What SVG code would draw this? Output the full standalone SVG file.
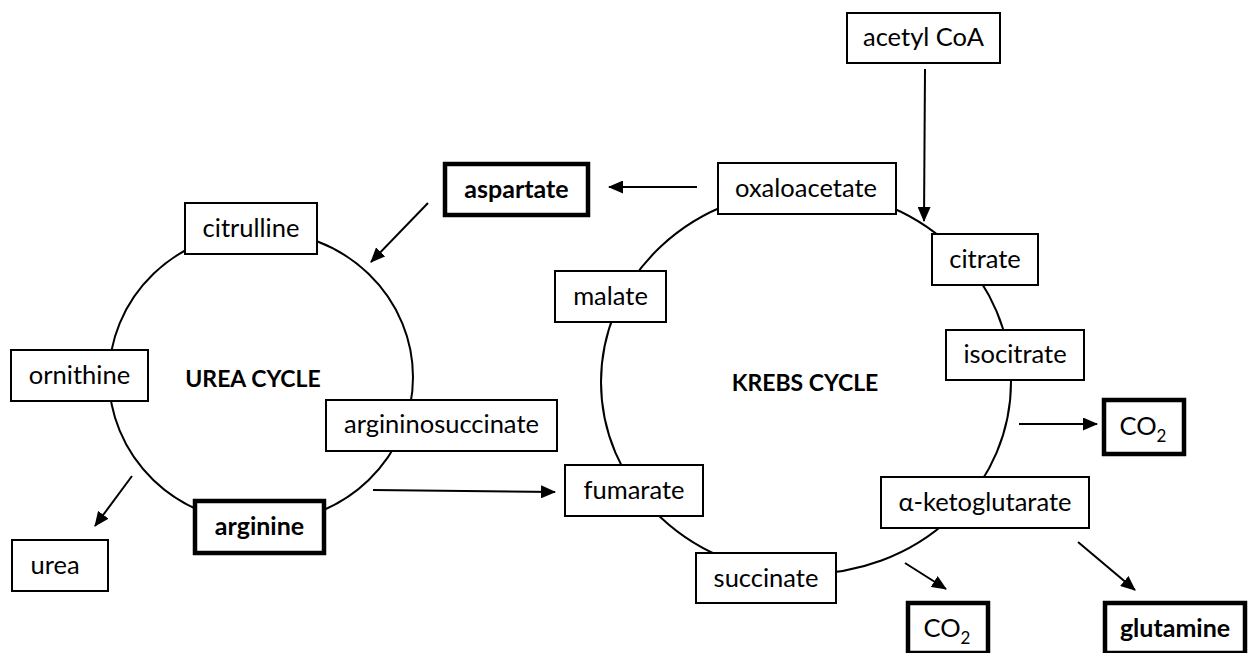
<svg xmlns="http://www.w3.org/2000/svg" width="1248" height="653" viewBox="0 0 1248 653">
<style>
.bx{fill:#fff;stroke:#000;stroke-width:2}
.bk{fill:#fff;stroke:#000;stroke-width:4.5}
.t{font-family:Lato,"Open Sans",sans-serif;font-size:25.5px;fill:#000;text-anchor:middle}
.b{font-weight:bold;font-size:25px}
.c{font-weight:bold;font-size:23px}
.cyc{fill:none;stroke:#000;stroke-width:2}
.ar{fill:none;stroke:#000;stroke-width:2;marker-end:url(#ah)}
</style>
<defs>
<marker id="ah" markerUnits="userSpaceOnUse" markerWidth="15" markerHeight="13" refX="14" refY="6.5" orient="auto">
<path d="M0,0 L15,6.5 L0,13 z" fill="#000"/>
</marker>
</defs>
<g id="cycles">
<ellipse class="cyc" cx="261" cy="377" rx="152" ry="146"/>
<ellipse class="cyc" cx="806" cy="382" rx="205" ry="192"/>
</g>
<g id="connectors">
<line class="ar" x1="925" y1="69" x2="924" y2="221"/>
<line class="ar" x1="697" y1="187" x2="609" y2="187"/>
<line class="ar" x1="428" y1="203" x2="371" y2="262"/>
<line class="ar" x1="132" y1="476" x2="95" y2="526"/>
<line class="ar" x1="373" y1="490" x2="555" y2="492"/>
<line class="ar" x1="1019" y1="424" x2="1097" y2="424"/>
<line class="ar" x1="905" y1="563" x2="946" y2="589"/>
<line class="ar" x1="1078" y1="542" x2="1135" y2="590"/>
</g>
<g id="labels">
<text class="t c" x="253" y="387">UREA CYCLE</text>
<text class="t c" x="805" y="391">KREBS CYCLE</text>
</g>
<g id="acetylcoa"><rect class="bx" x="847" y="13" width="153" height="50"/><text class="t" x="923.5" y="46">acetyl CoA</text></g>
<g id="aspartate"><rect class="bk" x="445" y="164" width="143" height="51"/><text class="t b" x="516.5" y="198">aspartate</text></g>
<g id="oxaloacetate"><rect class="bx" x="718" y="163" width="178" height="51"/><text class="t" x="806" y="197">oxaloacetate</text></g>
<g id="citrulline"><rect class="bx" x="185" y="203" width="132" height="51"/><text class="t" x="251" y="237">citrulline</text></g>
<g id="citrate"><rect class="bx" x="932" y="234" width="106" height="51"/><text class="t" x="985" y="268">citrate</text></g>
<g id="malate"><rect class="bx" x="555" y="271" width="111" height="51"/><text class="t" x="610.5" y="305">malate</text></g>
<g id="isocitrate"><rect class="bx" x="946" y="330" width="138" height="50"/><text class="t" x="1015" y="363">isocitrate</text></g>
<g id="ornithine"><rect class="bx" x="11" y="350" width="137" height="51"/><text class="t" x="79.5" y="384">ornithine</text></g>
<g id="argininosuccinate"><rect class="bx" x="326" y="400" width="231" height="51"/><text class="t" x="441.5" y="433">argininosuccinate</text></g>
<g id="co2a"><rect class="bk" x="1104" y="400" width="80" height="54"/><text class="t" x="1143" y="435">CO<tspan font-size="17" dy="7">2</tspan></text></g>
<g id="fumarate"><rect class="bx" x="565" y="465" width="138" height="51"/><text class="t" x="634" y="499">fumarate</text></g>
<g id="akg"><rect class="bx" x="881" y="477" width="208" height="51"/><text class="t" x="985" y="511">α-ketoglutarate</text></g>
<g id="arginine"><rect class="bk" x="195" y="501" width="129" height="52"/><text class="t b" x="259.5" y="535">arginine</text></g>
<g id="urea"><rect class="bx" x="12" y="540" width="96" height="51"/><text class="t" x="55" y="574">urea</text></g>
<g id="succinate"><rect class="bx" x="696" y="553" width="140" height="50"/><text class="t" x="766" y="587">succinate</text></g>
<g id="co2b"><rect class="bk" x="908" y="603" width="80" height="50"/><text class="t" x="947" y="637">CO<tspan font-size="17" dy="7">2</tspan></text></g>
<g id="glutamine"><rect class="bk" x="1105" y="603" width="140" height="50"/><text class="t b" x="1175" y="637">glutamine</text></g>
</svg>
